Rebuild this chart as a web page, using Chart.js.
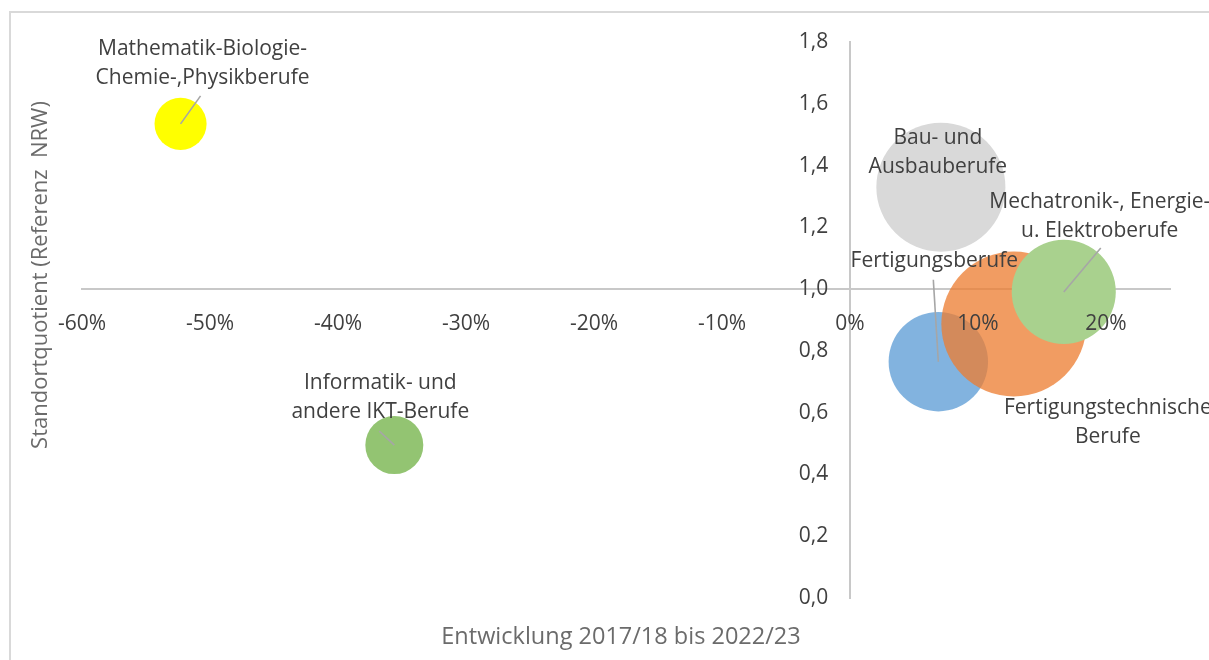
<!DOCTYPE html>
<html>
<head>
<meta charset="utf-8">
<script src="https://cdn.jsdelivr.net/npm/chart.js@4.4.1/dist/chart.umd.min.js"></script>
<style>
    html, body { margin: 0; padding: 0; background: #fff; overflow: hidden; }
    #wrap { position: relative; width: 1209px; height: 660px; }
    #frame { position: absolute; left: 9px; top: 11px; width: 1300px; height: 700px;
             border-left: 2px solid #d9d9d9; border-top: 2px solid #d9d9d9; }
    canvas { position: absolute; left: 0; top: 0; }
</style>
</head>
<body>
<div id="wrap">
    <div id="frame"></div>
    <canvas id="myChart" width="1209" height="660"></canvas>
</div>
<script>
// Data
const categories = [
    ['Mathematik-Biologie-', 'Chemie-,Physikberufe'],
    ['Informatik- und', 'andere IKT-Berufe'],
    ['Bau- und', 'Ausbauberufe'],
    ['Fertigungsberufe'],
    ['Fertigungstechnische', 'Berufe'],
    ['Mechatronik-, Energie-', 'u. Elektroberufe']
];
const growth = [-0.523, -0.356, 0.071, 0.069, 0.128, 0.167];          // Entwicklung 2017/18 bis 2022/23
const locationQuotient = [1.535, 0.495, 1.33, 0.765, 0.887, 0.991];  // Standortquotient
const bubbleSize = [1290, 1600, 7920, 4700, 10000, 5150];            // relative bubble size
const xTickValues = [-0.6, -0.5, -0.4, -0.3, -0.2, -0.1, 0, 0.1, 0.2];
const yTickValues = [0, 0.2, 0.4, 0.6, 0.8, 1.0, 1.2, 1.4, 1.6, 1.8];

const xTitle = 'Entwicklung 2017/18 bis 2022/23';
const yTitle = 'Standortquotient (Referenz  NRW)';

// Styles
const colors = ['#FFFF00', '#93C472', '#D9D9D9', 'rgba(91,155,213,0.76)', 'rgba(237,125,49,0.76)', '#A9D18E'];
const maxRadius = 72.5;
const fontFamily = "'Open Sans', sans-serif";
const textColor = '#404040';
const titleColor = '#6b6b6b';
const axisColor = '#C8C8C8';

// label placement relative to bubble centre (px)
const labelLayout = [
    { dx: 22, dy: -75, lead: [20, -28] },
    { dx: -14, dy: -62, lead: [-15, -14] },
    { dx: -3, dy: -49, lead: null },
    { dx: -4, dy: -101, lead: [-5, -82] },
    { dx: 94, dy: 84, lead: null },
    { dx: 36, dy: -90, lead: [37, -44] }
];

const maxSize = Math.max(...bubbleSize);
const points = growth.map((g, i) => ({
    x: g,
    y: locationQuotient[i],
    r: maxRadius * Math.sqrt(bubbleSize[i] / maxSize)
}));

const pctLabel = v => Math.round(v * 100) + '%';
const decLabel = v => v.toFixed(1).replace('.', ',');

const noSpace = scale => {
    if (scale.isHorizontal()) scale.height = 0; else scale.width = 0;
};

// bubble labels, leader lines and axis titles
const annotations = {
    id: 'annotations',
    afterDatasetsDraw(chart) {
        const ctx = chart.ctx;
        const meta = chart.getDatasetMeta(0);
        ctx.save();
        meta.data.forEach((el, i) => {
            const lay = labelLayout[i];
            if (lay.lead) {
                ctx.strokeStyle = '#A6A6A6';
                ctx.lineWidth = 1.6;
                ctx.beginPath();
                ctx.moveTo(el.x + lay.lead[0], el.y + lay.lead[1]);
                ctx.lineTo(el.x, el.y);
                ctx.stroke();
            }
            ctx.fillStyle = textColor;
            ctx.font = '21px ' + fontFamily;
            ctx.textAlign = 'center';
            ctx.textBaseline = 'middle';
            categories[i].forEach((line, j) => {
                ctx.fillText(line, el.x + lay.dx, el.y + lay.dy + j * 29);
            });
        });
        ctx.restore();
    },
    afterDraw(chart) {
        const ctx = chart.ctx;
        ctx.save();
        ctx.fillStyle = titleColor;
        ctx.textAlign = 'center';
        ctx.textBaseline = 'middle';
        ctx.font = '23.5px ' + fontFamily;
        ctx.fillText(xTitle, 621, 637);
        ctx.font = '22px ' + fontFamily;
        ctx.translate(41, 275);
        ctx.rotate(-Math.PI / 2);
        ctx.fillText(yTitle, 0, 0);
        ctx.restore();
    }
};

const ctx = document.getElementById('myChart').getContext('2d');
const myChart = new Chart(ctx, {
    type: 'bubble',
    data: {
        datasets: [{
            label: 'Berufsgruppen',
            data: points,
            backgroundColor: colors,
            borderWidth: 0,
            hoverBorderWidth: 0
        }]
    },
    options: {
        responsive: false,
        animation: false,
        events: [],
        layout: { autoPadding: false, padding: { left: 82, top: 42, right: 39, bottom: 62 } },
        plugins: {
            legend: { display: false },
            tooltip: { enabled: false }
        },
        scales: {
            x: {
                type: 'linear',
                min: -0.6,
                max: 0.25,
                position: { y: 1 },
                afterFit: noSpace,
                afterBuildTicks: scale => { scale.ticks = xTickValues.map(v => ({ value: v })); },
                grid: { display: false },
                border: { display: true, color: axisColor, width: 2 },
                ticks: {
                    z: 1,
                    padding: 14,
                    color: textColor,
                    font: { family: fontFamily, size: 21 },
                    maxRotation: 0,
                    autoSkip: false,
                    callback: v => pctLabel(v)
                }
            },
            y: {
                type: 'linear',
                min: 0,
                max: 1.8,
                position: { x: 0 },
                afterFit: noSpace,
                grid: { display: false },
                border: { display: true, color: axisColor, width: 2 },
                ticks: { display: false }
            },
            y2: {
                type: 'linear',
                min: 0,
                max: 1.8,
                position: { x: -0.017 },
                afterFit: noSpace,
                afterBuildTicks: scale => { scale.ticks = yTickValues.map(v => ({ value: v })); },
                grid: { display: false },
                border: { display: false },
                ticks: {
                    z: 1,
                    color: textColor,
                    font: { family: fontFamily, size: 21 },
                    autoSkip: false,
                    callback: v => decLabel(v)
                }
            }
        }
    },
    plugins: [annotations]
});
</script>
</body>
</html>
